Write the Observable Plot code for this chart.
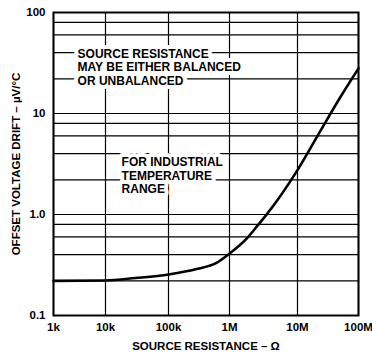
<!DOCTYPE html>
<html>
<head>
<meta charset="utf-8">
<script src="https://cdn.jsdelivr.net/npm/d3@7"></script>
<script src="https://cdn.jsdelivr.net/npm/@observablehq/plot@0.6"></script>
<style>
  html, body { margin: 0; padding: 0; background: #fff; }
</style>
</head>
<body>
<div id="chart"></div>
<script>
// Tick values and labels
const xTicks = [1e3, 1e4, 1e5, 1e6, 1e7, 1e8];
const xTickLabels = ["1k", "10k", "100k", "1M", "10M", "100M"];
const yTicks = [0.1, 1, 10, 100];
const yTickLabels = ["0.1", "1.0", "10", "100"];

// Horizontal grid values (µV/°C)
const yGrid = [0.22, 0.4, 0.6, 0.8, 1, 2.2, 4, 6, 8, 10, 22, 40, 60, 80];

// Curve: source resistance (Ω) vs offset voltage drift (µV/°C)
const resistance = [1e3, 1e4, 3e4, 1e5, 3e5, 6e5, 1e6, 1.8e6, 2.6e6, 3.6e6, 1e7, 2.4e7, 5e7, 1e8];
const drift      = [0.22, 0.222, 0.235, 0.255, 0.29, 0.33, 0.41, 0.58, 0.78, 1.02, 2.75, 6.8, 14.4, 28];

// Annotations (anchored in data units)
const noteText = ["SOURCE RESISTANCE\nMAY BE EITHER BALANCED\nOR UNBALANCED", "FOR INDUSTRIAL\nTEMPERATURE\nRANGE"];
const noteX = [2900, 18000];
const noteY = [29, 2.43];

const curve = resistance.map((r, i) => ({r, d: drift[i]}));
const notes = noteText.map((t, i) => ({t, x: noteX[i], y: noteY[i]}));

const chart = Plot.plot({
  width: 372,
  height: 352,
  marginLeft: 53,
  marginRight: 14,
  marginTop: 12,
  marginBottom: 37,
  style: {
    fontFamily: "'Liberation Sans', Arial, sans-serif",
    fontSize: "11.5px",
    fontWeight: "bold",
    background: "white",
    color: "black"
  },
  x: {
    type: "log",
    domain: xTicks,
    range: [53, 105, 168, 229, 297, 358]
  },
  y: {
    type: "log",
    domain: [0.1, 100]
  },
  marks: [
    Plot.ruleY(yGrid, {stroke: "black", strokeWidth: 1.2}),
    Plot.ruleX(xTicks, {stroke: "black", strokeWidth: 1.2}),
    Plot.text(notes, {
      x: "x", y: "y", text: "t",
      textAnchor: "start", lineAnchor: "middle", lineHeight: 1.13,
      fill: "black", stroke: "white", strokeWidth: 8,
      fontSize: 12, fontWeight: "bold"
    }),
    Plot.line(curve, {x: "r", y: "d", stroke: "black", strokeWidth: 2.6, curve: "monotone-x"}),
    Plot.frame({stroke: "black", strokeWidth: 2}),
    Plot.axisX({
      ticks: xTicks,
      tickFormat: d => xTickLabels[xTicks.indexOf(d)],
      tickSize: 0, tickPadding: 7,
      label: "SOURCE RESISTANCE \u2013 \u03A9",
      labelAnchor: "center", labelArrow: "none", labelOffset: 34
    }),
    Plot.axisY({
      ticks: yTicks,
      tickFormat: d => yTickLabels[yTicks.indexOf(d)],
      tickSize: 0, tickPadding: 8,
      label: "OFFSET VOLTAGE DRIFT \u2013 \u00B5V/\u00B0C",
      labelAnchor: "center", labelArrow: "none", labelOffset: 42
    })
  ]
});
document.getElementById("chart").appendChild(chart);
</script>
</body>
</html>
